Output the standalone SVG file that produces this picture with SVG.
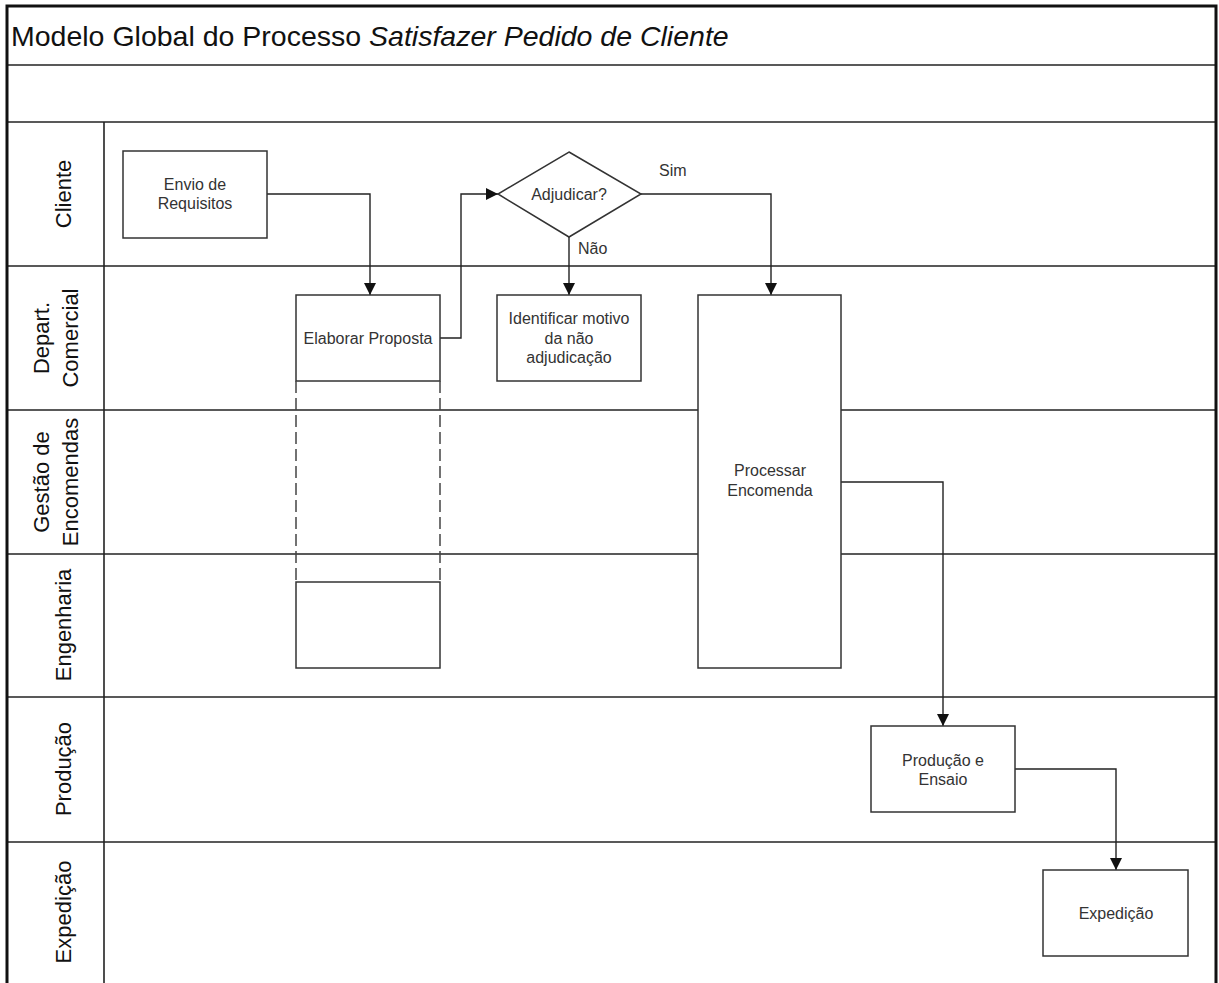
<svg xmlns="http://www.w3.org/2000/svg" width="1219" height="983" viewBox="0 0 1219 983">
  <style>
    .frame { fill: none; stroke: #111; stroke-width: 3; }
    .lane { fill: none; stroke: #222; stroke-width: 1.6; }
    .box { fill: #fff; stroke: #333; stroke-width: 1.5; }
    .dash { fill: none; stroke: #444; stroke-width: 1.5; stroke-dasharray: 12 5; }
    .wire { fill: none; stroke: #222; stroke-width: 1.4; }
    .title { font-family: "Liberation Sans", Arial, sans-serif; font-size: 28.5px; fill: #111; }
    .lbl { font-family: "Liberation Sans", Arial, sans-serif; font-size: 22px; fill: #111; text-anchor: middle; }
    .txt { font-family: "Liberation Sans", Arial, sans-serif; font-size: 16px; fill: #333; text-anchor: middle; }
    .cond { font-family: "Liberation Sans", Arial, sans-serif; font-size: 16px; fill: #333; }
  </style>
  <defs>
    <marker id="arrow" viewBox="0 0 12 12" refX="12" refY="6" markerWidth="12" markerHeight="12" markerUnits="userSpaceOnUse" orient="auto">
      <path d="M0,0 L12,6 L0,12 Z" fill="#111"/>
    </marker>
  </defs>

  <rect width="1219" height="983" fill="#fff"/>

  <!-- pool and lanes -->
  <g id="pool">
    <line class="lane" x1="7" y1="65" x2="1216" y2="65"/>
    <line class="lane" x1="7" y1="122" x2="1216" y2="122"/>
    <line class="lane" x1="7" y1="266" x2="1216" y2="266"/>
    <line class="lane" x1="7" y1="410" x2="1216" y2="410"/>
    <line class="lane" x1="7" y1="554" x2="1216" y2="554"/>
    <line class="lane" x1="7" y1="697" x2="1216" y2="697"/>
    <line class="lane" x1="7" y1="842" x2="1216" y2="842"/>
    <line class="lane" x1="104" y1="122" x2="104" y2="983"/>
    <path class="frame" d="M7,990 L7,6 L1216,6 L1216,990"/>
    <text class="title" x="11" y="46">Modelo Global do Processo <tspan font-style="italic">Satisfazer Pedido de Cliente</tspan></text>
  </g>

  <g id="lane-labels">
    <text class="lbl" transform="translate(71,194) rotate(-90)">Cliente</text>
    <text class="lbl" transform="translate(49,338) rotate(-90)">Depart.</text>
    <text class="lbl" transform="translate(78,338) rotate(-90)">Comercial</text>
    <text class="lbl" transform="translate(49,482) rotate(-90)">Gestão de</text>
    <text class="lbl" transform="translate(78,482) rotate(-90)">Encomendas</text>
    <text class="lbl" transform="translate(71,625) rotate(-90)">Engenharia</text>
    <text class="lbl" transform="translate(71,769) rotate(-90)">Produção</text>
    <text class="lbl" transform="translate(71,912) rotate(-90)">Expedição</text>
  </g>

  <!-- connectors -->
  <g id="connectors">
    <path class="wire" d="M267,194 H370 V295" marker-end="url(#arrow)"/>
    <path class="wire" d="M440,338 H461 V194 H498" marker-end="url(#arrow)"/>
    <path class="wire" d="M569,237 V295" marker-end="url(#arrow)"/>
    <path class="wire" d="M641,194 H771 V295" marker-end="url(#arrow)"/>
    <path class="wire" d="M841,482 H943 V726" marker-end="url(#arrow)"/>
    <path class="wire" d="M1015,769 H1116 V870" marker-end="url(#arrow)"/>
    <text class="cond" x="659" y="176">Sim</text>
    <text class="cond" x="578" y="254">Não</text>
  </g>

  <g id="envio">
    <rect class="box" x="123" y="151" width="144" height="87"/>
    <text class="txt" x="195" y="190">Envio de</text>
    <text class="txt" x="195" y="209">Requisitos</text>
  </g>

  <g id="adjudicar">
    <polygon class="box" points="569,152 641,194 569,237 498,194"/>
    <text class="txt" x="569" y="200">Adjudicar?</text>
  </g>

  <g id="elaborar">
    <rect class="box" x="296" y="295" width="144" height="86"/>
    <line class="dash" x1="296" y1="381" x2="296" y2="582"/>
    <line class="dash" x1="440" y1="381" x2="440" y2="582"/>
    <rect class="box" x="296" y="582" width="144" height="86"/>
    <text class="txt" x="368" y="344">Elaborar Proposta</text>
  </g>

  <g id="identificar">
    <rect class="box" x="497" y="295" width="144" height="86"/>
    <text class="txt" x="569" y="324">Identificar motivo</text>
    <text class="txt" x="569" y="344">da não</text>
    <text class="txt" x="569" y="363">adjudicação</text>
  </g>

  <g id="processar">
    <rect class="box" x="698" y="295" width="143" height="373"/>
    <text class="txt" x="770" y="476">Processar</text>
    <text class="txt" x="770" y="496">Encomenda</text>
  </g>

  <g id="producao">
    <rect class="box" x="871" y="726" width="144" height="86"/>
    <text class="txt" x="943" y="766">Produção e</text>
    <text class="txt" x="943" y="785">Ensaio</text>
  </g>

  <g id="expedicao">
    <rect class="box" x="1043" y="870" width="145" height="86"/>
    <text class="txt" x="1116" y="919">Expedição</text>
  </g>
</svg>
